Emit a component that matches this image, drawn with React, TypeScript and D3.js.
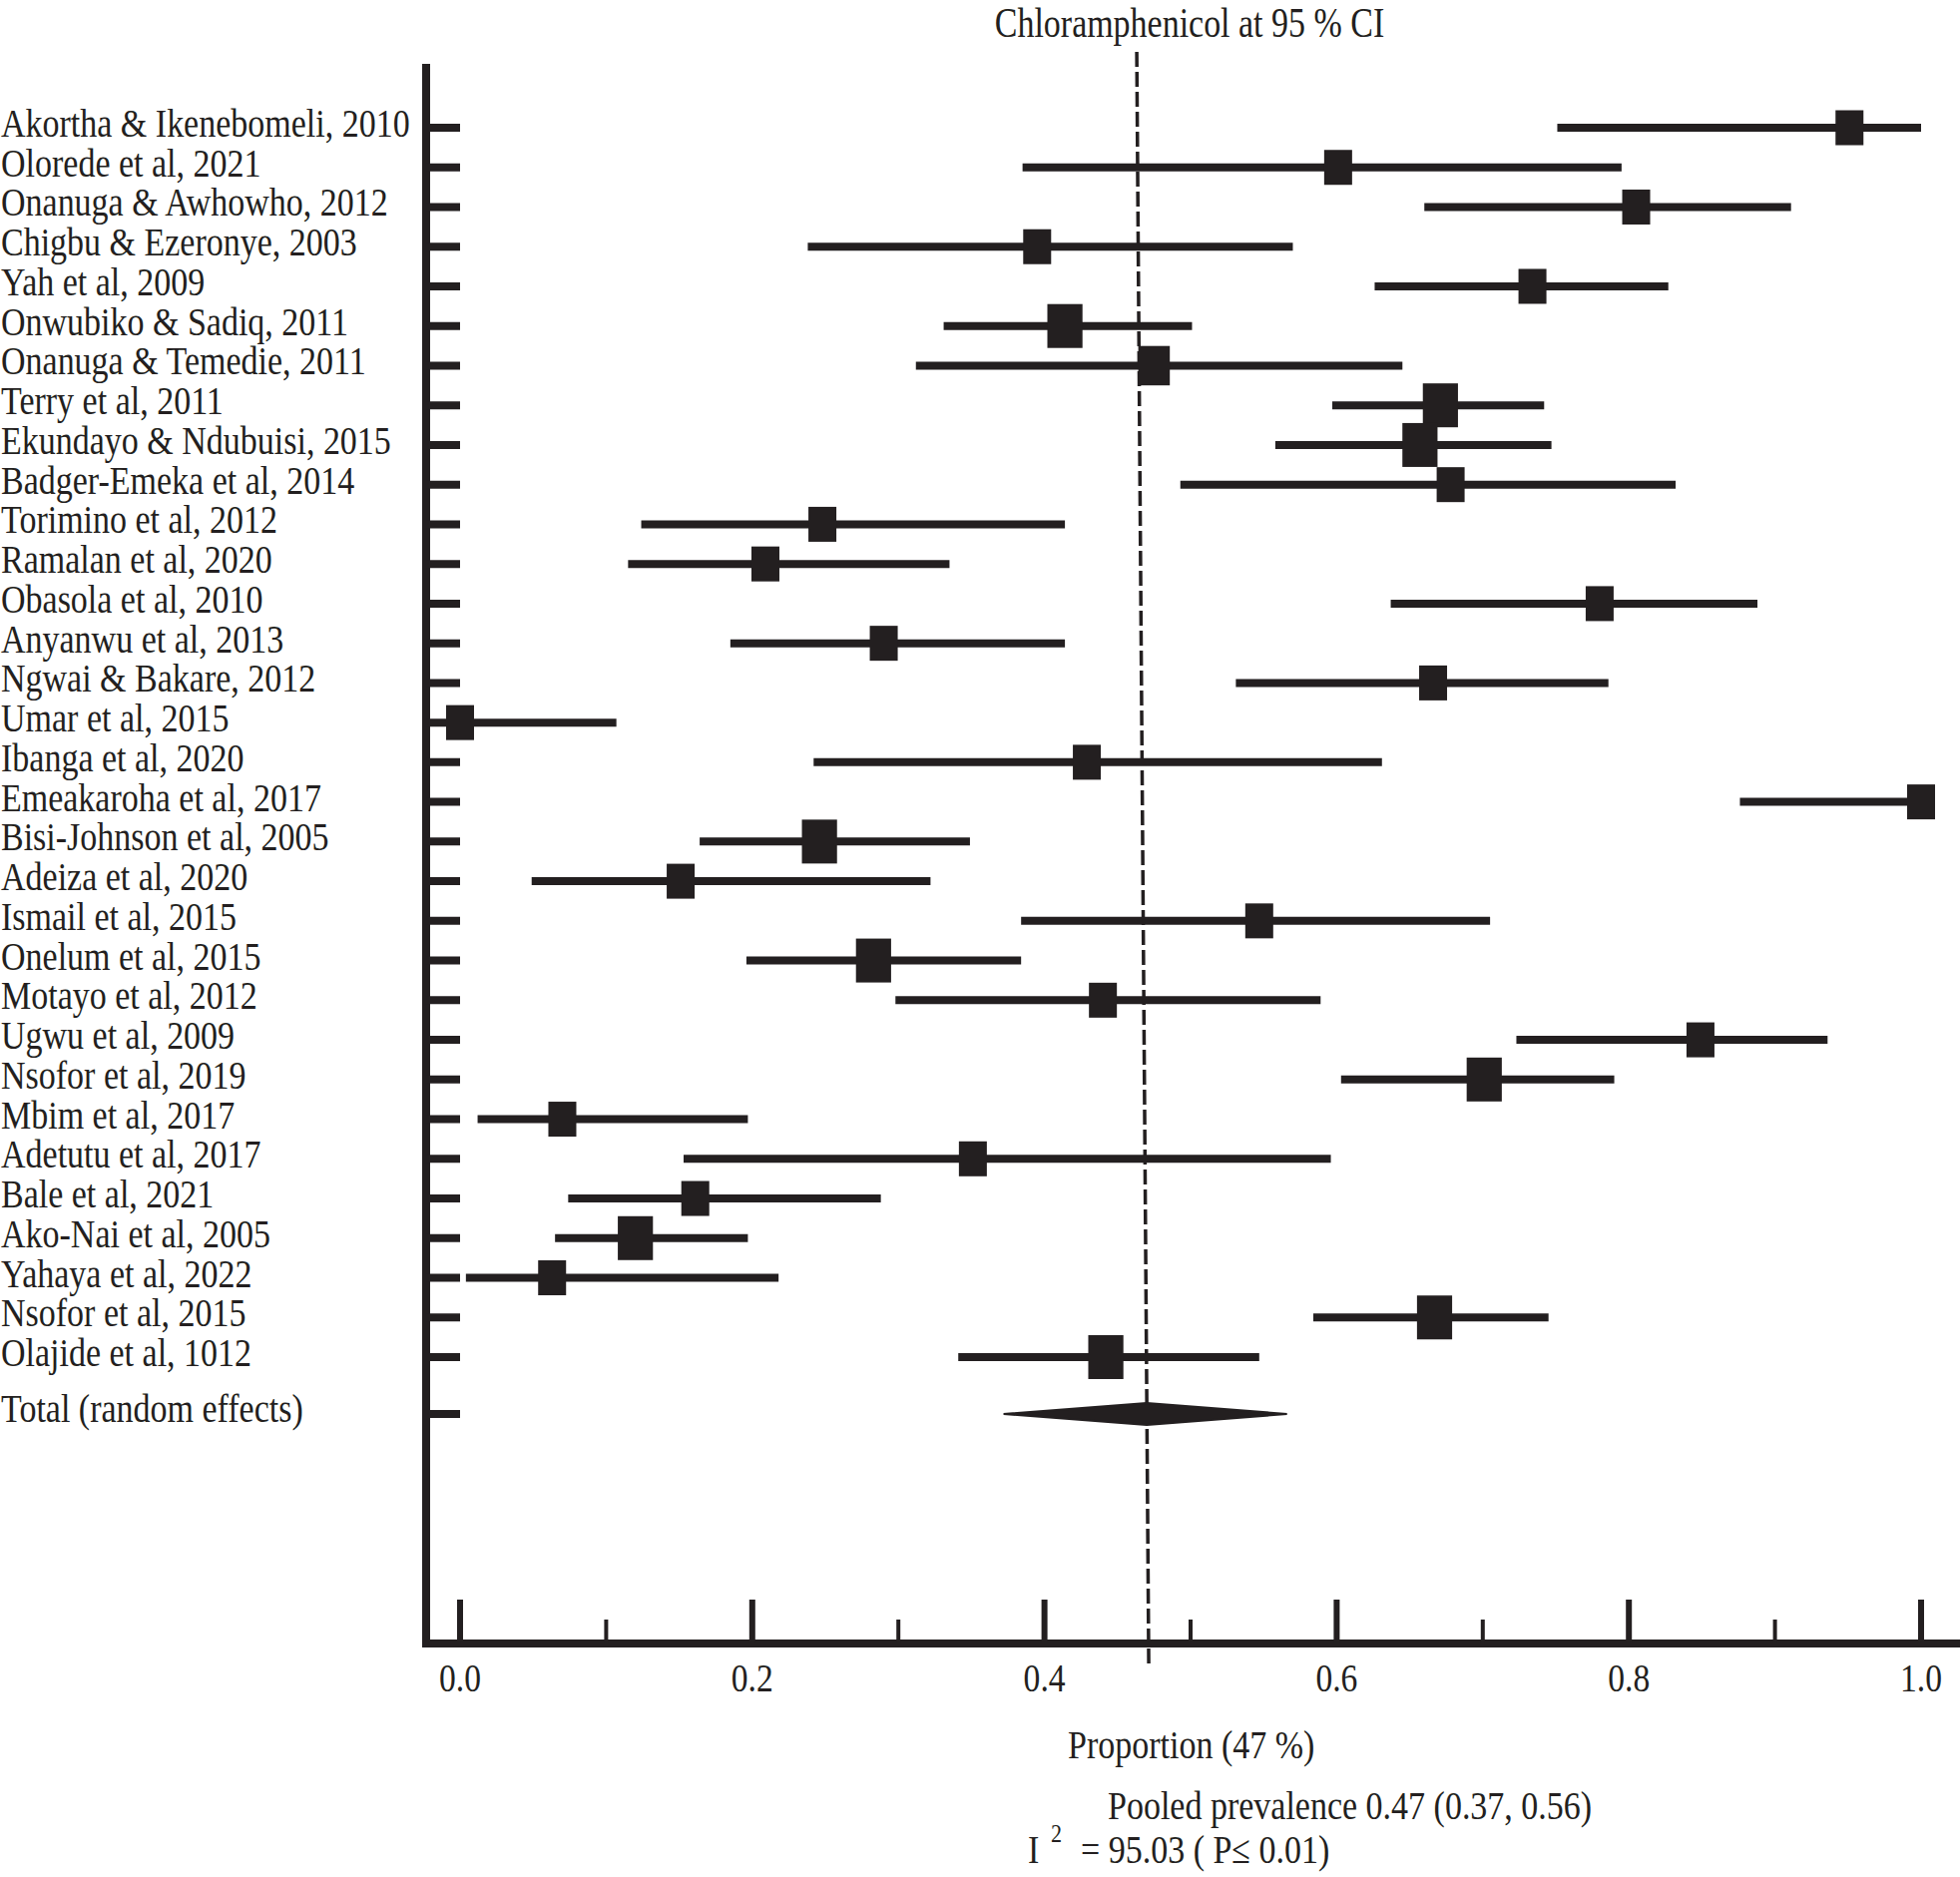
import React, { useEffect } from "react";
import * as d3 from "d3";

const studies = [
  "Akortha & Ikenebomeli, 2010",
  "Olorede et al, 2021",
  "Onanuga & Awhowho, 2012",
  "Chigbu & Ezeronye, 2003",
  "Yah et al, 2009",
  "Onwubiko & Sadiq, 2011",
  "Onanuga & Temedie, 2011",
  "Terry et al, 2011",
  "Ekundayo & Ndubuisi, 2015",
  "Badger-Emeka et al, 2014",
  "Torimino et al, 2012",
  "Ramalan et al, 2020",
  "Obasola et al, 2010",
  "Anyanwu et al, 2013",
  "Ngwai & Bakare, 2012",
  "Umar et al, 2015",
  "Ibanga et al, 2020",
  "Emeakaroha et al, 2017",
  "Bisi-Johnson et al, 2005",
  "Adeiza et al, 2020",
  "Ismail et al, 2015",
  "Onelum et al, 2015",
  "Motayo et al, 2012",
  "Ugwu et al, 2009",
  "Nsofor et al, 2019",
  "Mbim et al, 2017",
  "Adetutu et al, 2017",
  "Bale et al, 2021",
  "Ako-Nai et al, 2005",
  "Yahaya et al, 2022",
  "Nsofor et al, 2015",
  "Olajide et al, 1012",
];

const estimates = [
  0.951, 0.601, 0.805, 0.395, 0.734, 0.414, 0.475, 0.671, 0.657, 0.678,
  0.248, 0.209, 0.78, 0.29, 0.666, 0.0, 0.429, 1.0, 0.246, 0.151,
  0.547, 0.283, 0.44, 0.849, 0.701, 0.07, 0.351, 0.161, 0.12, 0.063,
  0.667, 0.442,
];

const lower = [
  0.751, 0.385, 0.66, 0.238, 0.626, 0.331, 0.312, 0.597, 0.558, 0.493,
  0.124, 0.115, 0.637, 0.185, 0.531, 0.0, 0.242, 0.876, 0.164, 0.049,
  0.384, 0.196, 0.298, 0.723, 0.603, 0.012, 0.153, 0.074, 0.065, 0.004,
  0.584, 0.341,
];

const upper = [
  1.0, 0.795, 0.911, 0.57, 0.827, 0.501, 0.645, 0.742, 0.747, 0.832,
  0.414, 0.335, 0.888, 0.414, 0.786, 0.107, 0.631, 1.0, 0.349, 0.322,
  0.705, 0.384, 0.589, 0.936, 0.79, 0.197, 0.596, 0.288, 0.197, 0.218,
  0.745, 0.547,
];

// relative study weights (marker size)
const weights = [
  3.0, 3.0, 3.0, 3.0, 3.0, 3.4, 3.2, 3.4, 3.4, 3.0,
  3.0, 3.0, 3.0, 3.0, 3.0, 3.0, 3.0, 3.0, 3.4, 3.0,
  3.0, 3.4, 3.0, 3.0, 3.4, 3.0, 3.0, 3.0, 3.4, 3.0,
  3.4, 3.4,
];

const pooled = { est: 0.47, lo: 0.372, hi: 0.566 };
const majorTicks = [0, 0.2, 0.4, 0.6, 0.8, 1.0];
const minorTicks = [0.1, 0.3, 0.5, 0.7, 0.9];

const titleText = "Chloramphenicol at 95 % CI";
const totalLabel = "Total (random effects)";
const xAxisLabel = "Proportion (47 %)";
const pooledLabel = "Pooled prevalence 0.47 (0.37, 0.56)";
const hetLabel = "= 95.03 ( P\u2264 0.01)";

const INK = "#231f20";
const FONT = "'Liberation Serif', 'Times New Roman', serif";

export default function App() {
  useEffect(() => {
    document.body.style.margin = "0";
    document.body.style.overflow = "hidden";
  }, []);

  const W = 1964;
  const H = 1881;
  const x = d3.scaleLinear().domain([0, 1]).range([461, 1925]);
  const y = d3.scalePoint<string>().domain(studies).range([128, 1360]);
  const size = d3.scaleLinear().domain([3.0, 3.4]).range([35, 44]);

  const axisX = 427;
  const axisTop = 64;
  const xAxisY = 1647;
  const totalY = 1417;
  const sx = 0.85;

  const rowYs = studies.map((s) => y(s) as number);

  const diamond = d3.line()([
    [x(pooled.lo), totalY],
    [x(pooled.est), totalY - 11],
    [x(pooled.hi), totalY],
    [x(pooled.est), totalY + 11],
  ]) + "Z";

  return (
    <svg width={W} height={H} style={{ display: "block", background: "#fff" }} fontFamily={FONT}>
      {/* title */}
      <text transform={`translate(1192,37) scale(0.79,1)`} textAnchor="middle" fontSize={43} fill={INK}>
        {titleText}
      </text>

      {/* dashed pooled line */}
      <line
        x1={x(pooled.est) - 10}
        y1={52}
        x2={x(pooled.est) + 2}
        y2={1667}
        stroke={INK}
        strokeWidth={3.5}
        strokeDasharray="15 5"
      />

      {/* y axis */}
      <line x1={axisX} y1={axisTop} x2={axisX} y2={xAxisY + 4} stroke={INK} strokeWidth={8} />
      {/* x axis */}
      <line x1={axisX - 4} y1={xAxisY} x2={W} y2={xAxisY} stroke={INK} strokeWidth={8} />

      {/* row ticks */}
      {[...rowYs, totalY].map((ry, i) => (
        <line key={"rt" + i} x1={axisX} y1={ry} x2={x(0)} y2={ry} stroke={INK} strokeWidth={8} />
      ))}

      {/* x ticks */}
      {majorTicks.map((t) => (
        <line key={"mj" + t} x1={x(t)} y1={1603} x2={x(t)} y2={xAxisY} stroke={INK} strokeWidth={6} />
      ))}
      {minorTicks.map((t) => (
        <line key={"mn" + t} x1={x(t)} y1={1623} x2={x(t)} y2={xAxisY} stroke={INK} strokeWidth={4} />
      ))}
      {majorTicks.map((t) => (
        <text
          key={"tl" + t}
          transform={`translate(${x(t)},1695) scale(0.84,1)`}
          textAnchor="middle"
          fontSize={40}
          fill={INK}
        >
          {d3.format(".1f")(t)}
        </text>
      ))}

      {/* study labels */}
      {studies.map((s, i) => (
        <text key={"lb" + i} transform={`translate(1,${rowYs[i] + 9}) scale(${sx},1)`} fontSize={40} fill={INK}>
          {s}
        </text>
      ))}
      <text transform={`translate(1,${totalY + 8}) scale(${sx},1)`} fontSize={40} fill={INK}>
        {totalLabel}
      </text>

      {/* CI lines and markers */}
      {studies.map((s, i) => {
        const h = size(weights[i]);
        const w = h * 0.8;
        return (
          <g key={"st" + i}>
            <line x1={x(lower[i])} y1={rowYs[i]} x2={x(upper[i])} y2={rowYs[i]} stroke={INK} strokeWidth={8} />
            <rect x={x(estimates[i]) - w / 2} y={rowYs[i] - h / 2} width={w} height={h} fill={INK} />
          </g>
        );
      })}

      {/* pooled diamond */}
      <path d={diamond} fill={INK} stroke={INK} strokeWidth={2} />

      {/* bottom annotations */}
      <text transform={`translate(1070,1762) scale(${sx},1)`} fontSize={40} fill={INK}>
        {xAxisLabel}
      </text>
      <text transform={`translate(1110,1823) scale(${sx},1)`} fontSize={40} fill={INK}>
        {pooledLabel}
      </text>
      <text transform={`translate(1030,1867) scale(${sx},1)`} fontSize={40} fill={INK}>
        I
      </text>
      <text transform={`translate(1053,1846) scale(${sx},1)`} fontSize={26} fill={INK}>
        2
      </text>
      <text transform={`translate(1083,1867) scale(${sx},1)`} fontSize={40} fill={INK}>
        {hetLabel}
      </text>
    </svg>
  );
}
